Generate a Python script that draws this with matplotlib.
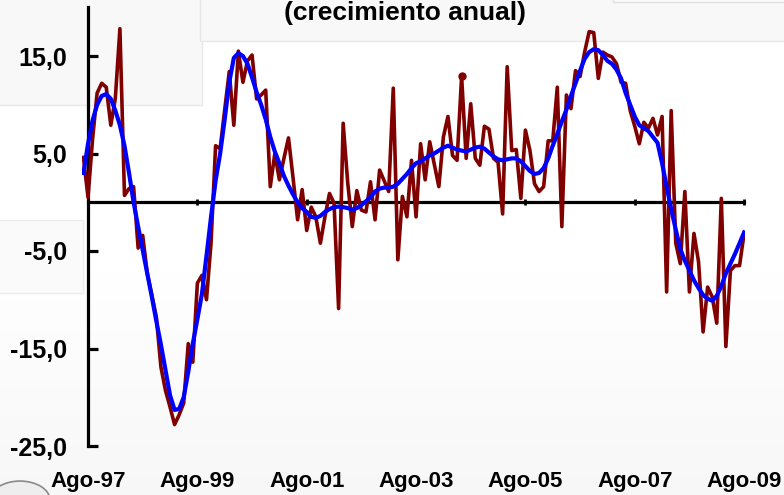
import matplotlib
matplotlib.use("Agg")
import matplotlib.pyplot as plt
from matplotlib.patches import Rectangle, Circle
import numpy as np

# months counted from Aug-1997 (0); series starts Jul-1997 (-1)
start_month = -1
red_values = [
    4.6, 0.5, 6.5, 11.2, 12.2, 11.8, 7.9, 10.7, 17.8, 0.7,
    1.4, 1.6, -4.7, -3.4, -7.3, -9.5, -11.8, -16.9, -19.3, -21.0,
    -22.8, -21.8, -20.6, -14.5, -16.4, -8.3, -7.5, -10.0, -4.2, 5.8,
    5.5, 9.5, 13.4, 7.9, 15.5, 12.3, 14.5, 15.1, 10.6, 11.0,
    11.5, 1.6, 5.0, 2.3, 4.5, 6.6, 2.5, -1.8, 1.3, -2.9,
    -0.5, -1.5, -4.2, -1.5, 0.9, -0.1, -10.9, 8.1, 2.0, -2.5,
    1.2, -0.8, -1.0, 2.1, -1.8, 3.3, 2.2, 1.1, 11.7, -5.9,
    0.6, -1.5, 4.3, -1.5, 6.0, 2.3, 6.2, 3.9, 1.6, 6.7,
    8.8, 4.8, 4.3, 12.9, 4.5, 10.1, 4.5, 3.8, 7.8, 7.5,
    4.5, 4.1, -1.2, 13.9, 5.3, 5.4, 0.4, 7.4, 5.3, 1.9,
    1.1, 1.6, 6.3, 6.3, 11.8, -2.5, 11.0, 9.6, 13.5, 12.9,
    15.4, 17.5, 17.4, 12.7, 15.4, 15.1, 14.9, 14.2, 12.3, 12.2,
    9.4, 7.8, 6.0, 8.2, 7.6, 8.6, 6.9, 8.8, -9.2, 9.4,
    -4.2, -6.3, 1.1, -9.2, -3.2, -6.1, -13.3, -8.7, -9.7, -12.4,
    0.4, -14.8, -7.0, -6.5, -6.5, -3.2,
]
trend_values = [
    3.0, 6.0, 8.4, 10.0, 10.9, 11.1, 10.6, 9.4, 7.9, 5.8,
    3.0, 0.0, -2.5, -4.9, -7.3, -9.7, -12.2, -14.6, -17.2, -19.8,
    -21.3, -21.2, -20.0, -17.4, -14.5, -12.0, -9.4, -5.5, -1.5, 2.2,
    5.0, 8.5, 12.3, 14.8, 15.3, 15.0, 14.2, 12.8, 11.3, 10.0,
    8.5, 6.7, 5.2, 4.0, 2.7, 1.7, 0.8, 0.0, -0.6, -1.0,
    -1.5, -1.6, -1.4, -1.0, -0.7, -0.5, -0.45, -0.5, -0.6, -0.75,
    -0.6, -0.3, 0.1, 0.5, 1.1, 1.4, 1.5, 1.5, 1.6, 1.9,
    2.4, 2.9, 3.5, 4.0, 4.2, 4.5, 4.8, 5.0, 5.3, 5.6,
    5.8, 5.6, 5.4, 5.3, 5.2, 5.4, 5.6, 5.7, 5.5, 5.1,
    4.7, 4.4, 4.3, 4.4, 4.5, 4.5, 4.2, 3.7, 3.2, 2.9,
    3.0, 3.5, 4.5, 5.8, 7.0, 8.3, 9.5, 10.9, 12.2, 13.5,
    14.7, 15.4, 15.7, 15.6, 15.1, 14.5, 14.2, 13.6, 12.7, 11.2,
    10.0, 8.8, 7.9, 7.6, 7.3, 6.7, 6.1, 4.0, 1.6, -0.7,
    -2.8, -4.8, -6.0, -7.0, -8.0, -8.8, -9.5, -9.9, -10.1, -9.6,
    -8.6, -7.3, -6.3, -5.3, -4.2, -3.1,
]
marked_month = 82

xtick_pos = [0, 24, 48, 72, 96, 120, 144]
xtick_labels = ["Ago-97", "Ago-99", "Ago-01", "Ago-03", "Ago-05", "Ago-07", "Ago-09"]
ytick_pos = [15, 5, -5, -15, -25]
ytick_labels = ["15,0", "5,0", "-5,0", "-15,0", "-25,0"]
title_text = "(crecimiento anual)"

months = np.arange(start_month, start_month + len(red_values))
red = np.array(red_values)
trend = np.array(trend_values)

plt.rcParams['font.family'] = ['Liberation Sans', 'DejaVu Sans']
W, H = 784, 495
fig = plt.figure(figsize=(W / 100, H / 100), dpi=100)
fig.patch.set_facecolor("white")

# faint slide background boxes
def px_rect(x0, y0, x1, y1, fc, ec):
    fig.patches.append(Rectangle((x0 / W, 1 - y1 / H), (x1 - x0) / W, (y1 - y0) / H,
                                 transform=fig.transFigure, facecolor=fc,
                                 edgecolor=ec, linewidth=1.0, zorder=-5))
px_rect(-5, -5, 202, 105, "#f8f8f8", "#e8e8e8")
px_rect(200, -5, 790, 41, "#f8f8f8", "#e8e8e8")
px_rect(613, -5, 790, 2, "#fbfbfb", "#e0e0e0")
px_rect(-5, 220, 83, 293, "#fafafa", "#ececec")
# bottom soft gray gradient
grad = np.linspace(1.0, 0.97, 100).reshape(-1, 1)
bg_ax = fig.add_axes([0, 0, 1, 0.45], zorder=-10)
bg_ax.imshow(np.dstack([grad, grad, grad]), aspect='auto', extent=[0, 1, 0, 1])
bg_ax.set_axis_off()
fig.patches.append(Circle((20 / W, 1 - 500 / H), 30 / W, transform=fig.transFigure,
                          facecolor="#eeeeee", edgecolor="#8a8a8a", linewidth=1.2, zorder=-4))

x_left, x_right = -1.3, 144.2
ax = fig.add_axes([82.1 / W, (H - 446) / H, (745 - 82.1) / W, (446 - 7.25) / H])
ax.set_facecolor("none")
ax.set_xlim(x_left, x_right)
ax.set_ylim(-25, 20)

ax.plot(months, red, color="#800000", lw=2.6, zorder=3)
ax.plot(months[months == marked_month], red[months == marked_month], 'o',
        color="#800000", ms=5, zorder=3)
ax.plot(months, trend, color="#0000ff", lw=3.0, zorder=4)

for s in ["top", "right"]:
    ax.spines[s].set_visible(False)
ax.spines["left"].set_position(("data", xtick_pos[0]))
ax.spines["left"].set_linewidth(2.3)
ax.spines["bottom"].set_position(("data", 0))
ax.spines["bottom"].set_bounds(xtick_pos[0], xtick_pos[-1])
ax.spines["bottom"].set_linewidth(2.3)

ax.set_yticks(ytick_pos)
ax.set_yticklabels(ytick_labels, fontsize=18, fontweight="bold")
ax.tick_params(axis="y", direction="in", length=7, width=2.3, pad=15)

ax.set_xticks(xtick_pos)
ax.tick_params(axis="x", direction="inout", length=5, width=2.0, labelbottom=False)

sec = ax.secondary_xaxis(0.0)
sec.set_xticks(xtick_pos)
sec.set_xticklabels(xtick_labels, fontsize=16, fontweight="bold")
sec.tick_params(axis="x", length=0, pad=18)
sec.spines["bottom"].set_visible(False)

fig.text(405 / W, 1 - 20 / H, title_text, ha="center", va="baseline",
         fontsize=19, fontweight="bold")

fig.savefig("out.png", dpi=100)
